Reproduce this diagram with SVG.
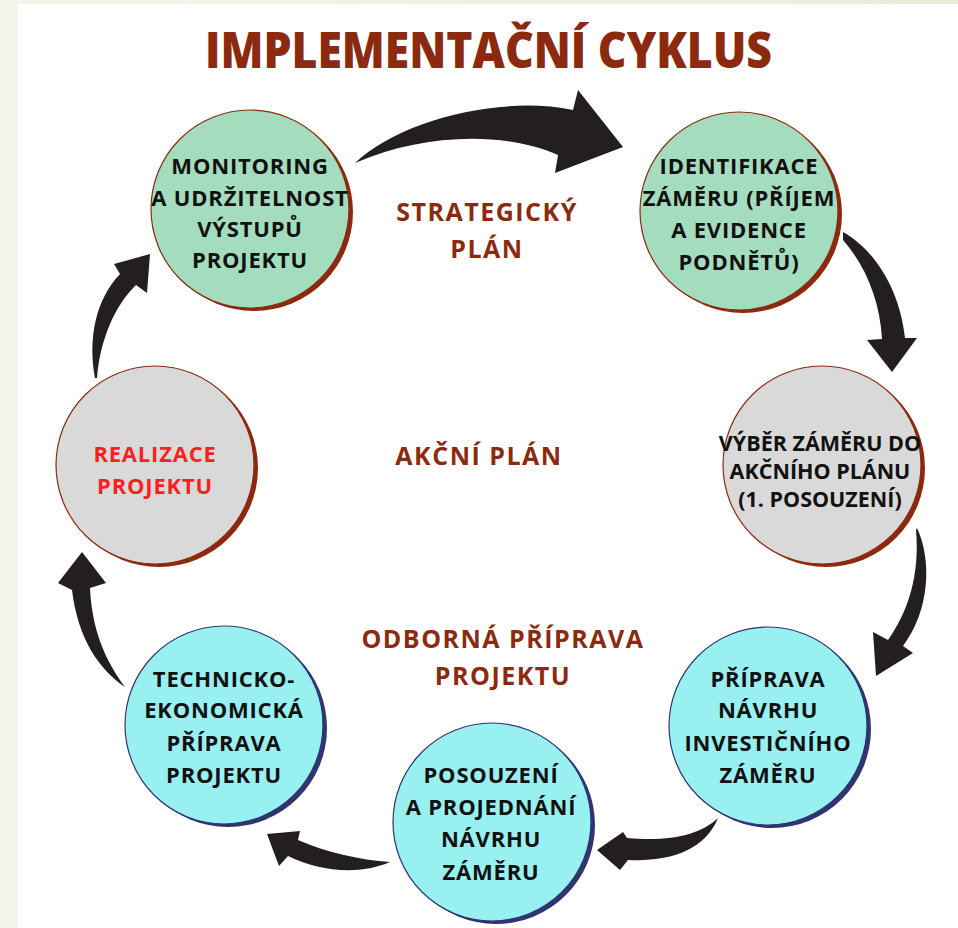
<svg xmlns="http://www.w3.org/2000/svg" width="958" height="928" viewBox="0 0 958 928">
<defs>
<linearGradient id="bg" x1="0" y1="0" x2="1" y2="0">
<stop offset="0" stop-color="#f4f6ec"/>
<stop offset="1" stop-color="#e7eed8"/>
</linearGradient>
<style>
.arrow{fill:#231f20}
.sh-br{fill:#8b2a0e}
.sh-nv{fill:#2f356f}
.c-green{fill:#a4ddbd;stroke:#8b2a0e;stroke-width:1.2}
.c-gray{fill:#d9d9d9;stroke:#8b2a0e;stroke-width:1.2}
.c-cyan{fill:#98f0f0;stroke:#2f356f;stroke-width:1.2}
.t{font-family:"Open Sans","DejaVu Sans",sans-serif;font-weight:700;font-size:22px;letter-spacing:0.8px;fill:#111;text-anchor:middle}
.tight{letter-spacing:0px;font-size:21.5px}
.red{fill:#ff1f1f}
.lbl{font-family:"Open Sans","DejaVu Sans",sans-serif;font-weight:700;font-size:25px;letter-spacing:1.5px;fill:#8b2a0e;text-anchor:middle}
.title{font-family:"Open Sans","DejaVu Sans",sans-serif;font-weight:800;font-size:50px;fill:#8b2a0e}
</style>
</defs>
<rect x="0" y="0" width="958" height="928" fill="url(#bg)"/>
<rect x="18" y="4" width="940" height="924" fill="#ffffff"/>

<text class="title" x="205" y="68" textLength="567" lengthAdjust="spacingAndGlyphs">IMPLEMENTAČNÍ CYKLUS</text>

<g id="labels">
<text class="lbl" x="487" y="221">STRATEGICKÝ</text>
<text class="lbl" x="487" y="258">PLÁN</text>
<text class="lbl" x="479" y="465">AKČNÍ PLÁN</text>
<text class="lbl" x="503" y="648">ODBORNÁ PŘÍPRAVA</text>
<text class="lbl" x="503" y="685">PROJEKTU</text>
</g>

<g id="connectors">
<path class="arrow" d="M355,163 C400,120 500,95 573,110 L578,90 L623,147 L555,173 L558,155 C500,130 420,135 355,163 Z"/>
<path class="arrow" d="M843,232 C875,250 900,290 905,338 L917,338 L892,372 L867,340 L882,339 C880,300 865,265 843,240 Z"/>
<path class="arrow" d="M917,528 C932,560 930,610 903,646 L913,653 L876,676 L873,632 L888,640 C908,612 920,575 916,530 Z"/>
<path class="arrow" d="M718,818 C700,835 670,842 627,838 L623,832 L597,850 L620,870 L628,860 C670,862 705,850 718,818 Z"/>
<path class="arrow" d="M390,862 C360,860 325,852 298,840 L300,831 L267,834 L279,866 L288,856 C320,872 360,875 390,862 Z"/>
<path class="arrow" d="M125,687 C100,670 78,640 72,590 L58,583 L82,552 L106,583 L90,588 C92,630 105,660 125,687 Z"/>
<path class="arrow" d="M95,378 C88,340 95,300 120,274 L114,264 L150,254 L147,293 L136,285 C115,305 100,340 97,378 Z"/>
</g>

<g id="n-monitoring">
<circle class="sh-br" cx="254" cy="212" r="99"/>
<circle class="c-green" cx="250" cy="209" r="99"/>
<text class="t" x="250" y="174">MONITORING</text>
<text class="t" x="250" y="206">A UDRŽITELNOST</text>
<text class="t" x="250" y="237">VÝSTUPŮ</text>
<text class="t" x="250" y="268">PROJEKTU</text>
</g>

<g id="n-identifikace">
<circle class="sh-br" cx="743" cy="214" r="99"/>
<circle class="c-green" cx="739" cy="211" r="99"/>
<text class="t" x="739" y="174">IDENTIFIKACE</text>
<text class="t" x="739" y="206">ZÁMĚRU (PŘÍJEM</text>
<text class="t" x="739" y="238">A EVIDENCE</text>
<text class="t" x="739" y="270">PODNĚTŮ)</text>
</g>

<g id="n-vyber">
<circle class="sh-br" cx="826" cy="468" r="99"/>
<circle class="c-gray" cx="822" cy="465" r="99"/>
<text class="t tight" x="820" y="451">VÝBĚR ZÁMĚRU DO</text>
<text class="t tight" x="820" y="479">AKČNÍHO PLÁNU</text>
<text class="t tight" x="820" y="507">(1. POSOUZENÍ)</text>
</g>

<g id="n-priprava-navrhu">
<circle class="sh-nv" cx="772" cy="729" r="99"/>
<circle class="c-cyan" cx="768" cy="726" r="99"/>
<text class="t" x="768" y="687">PŘÍPRAVA</text>
<text class="t" x="768" y="718">NÁVRHU</text>
<text class="t" x="768" y="751">INVESTIČNÍHO</text>
<text class="t" x="768" y="783">ZÁMĚRU</text>
</g>

<g id="n-posouzeni">
<circle class="sh-nv" cx="496" cy="825" r="99"/>
<circle class="c-cyan" cx="492" cy="822" r="99"/>
<text class="t" x="491" y="783">POSOUZENÍ</text>
<text class="t" x="491" y="815">A PROJEDNÁNÍ</text>
<text class="t" x="491" y="847">NÁVRHU</text>
<text class="t" x="491" y="880">ZÁMĚRU</text>
</g>

<g id="n-technicko">
<circle class="sh-nv" cx="228" cy="728" r="99"/>
<circle class="c-cyan" cx="224" cy="725" r="99"/>
<text class="t" x="224" y="687">TECHNICKO-</text>
<text class="t" x="224" y="718">EKONOMICKÁ</text>
<text class="t" x="224" y="751">PŘÍPRAVA</text>
<text class="t" x="224" y="783">PROJEKTU</text>
</g>

<g id="n-realizace">
<circle class="sh-br" cx="159" cy="468" r="99"/>
<circle class="c-gray" cx="155" cy="465" r="99"/>
<text class="t red" x="155" y="462">REALIZACE</text>
<text class="t red" x="155" y="494">PROJEKTU</text>
</g>
</svg>
